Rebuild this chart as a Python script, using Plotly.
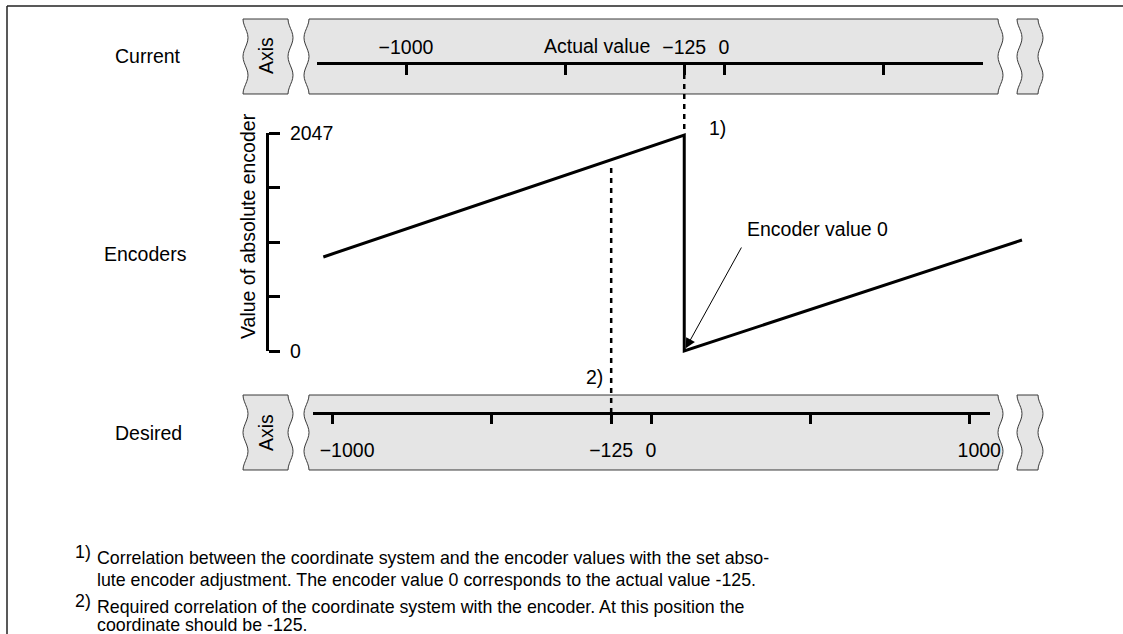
import math
import plotly.graph_objects as go

# ---------------- data ----------------
current_tick_vals = [-1000, -500, -125, 0, 500]
current_tick_text = ["\u22121000", "", "\u2212125", "0", ""]
desired_tick_vals = [-1000, -500, -125, 0, 500, 1000]
desired_tick_text = ["\u2003\u2002\u22121000", "", "\u2212125", "0", "", "\u20031000"]
encoder_tick_vals = [0, 511.75, 1023.5, 1535.25, 2047]
encoder_tick_text = ["0", "", "", "", "2047"]
encoder_x = [-1260, -125, -125, 937]      # actual value
encoder_y = [883, 2028, 0, 1042]          # value of absolute encoder
offset_value = -125

# ---------------- layout helpers ----------------
W, H = 1123, 634
FONT = "Liberation Sans, Arial, sans-serif"
FS = 19.5
FN = 17.8  # footnote size


def px(x):
    return x / W


def py(y):
    return 1 - y / H


# scales (pixels per unit) and zero positions
S_CUR, Z_CUR = 0.318, 724
S_DES, Z_DES = 0.3185, 651
ENC_TOP, ENC_BOT = 133, 351


def cur_val(p):
    return (p - Z_CUR) / S_CUR


def des_val(p):
    return (p - Z_DES) / S_DES


def enc_val(p):
    return (ENC_BOT - p) / (ENC_BOT - ENC_TOP) * 2047


fig = go.Figure()

# empty traces to create subplots
fig.add_trace(go.Scatter(x=[], y=[], xaxis="x", yaxis="y", showlegend=False))
fig.add_trace(go.Scatter(x=[], y=[], xaxis="x2", yaxis="y2", showlegend=False))
fig.add_trace(go.Scatter(x=[], y=[], xaxis="x3", yaxis="y3", showlegend=False))
# encoder line
fig.add_trace(go.Scatter(x=encoder_x, y=encoder_y, xaxis="x3", yaxis="y4",
                         mode="lines", line=dict(color="black", width=3),
                         showlegend=False, hoverinfo="skip"))

axis_common = dict(showgrid=False, zeroline=False, showline=True, linecolor="black",
                   linewidth=3, tickcolor="black", tickwidth=3, automargin=False,
                   tickfont=dict(family=FONT, size=FS, color="black"), fixedrange=True)
hidden = dict(visible=False, fixedrange=True, automargin=False, showgrid=False, zeroline=False)

fig.update_layout(
    template="none",
    width=W, height=H, margin=dict(l=0, r=0, t=0, b=0, pad=0, autoexpand=False),
    paper_bgcolor="white", plot_bgcolor="rgba(0,0,0,0)",
    showlegend=False, hovermode=False,
    xaxis=dict(domain=[px(317), px(983)], range=[cur_val(317), cur_val(983)],
               anchor="y", side="top", ticks="inside", ticklen=10,
               tickmode="array", tickvals=current_tick_vals, ticktext=current_tick_text,
               ticklabelstandoff=0, **axis_common),
    yaxis=dict(domain=[py(90), py(65)], range=[0, 1], **hidden),
    xaxis2=dict(domain=[px(313), px(990)], range=[des_val(313), des_val(990)],
                anchor="y2", side="bottom", ticks="outside", ticklen=9,
                tickmode="array", tickvals=desired_tick_vals, ticktext=desired_tick_text,
                ticklabelstandoff=10, **axis_common),
    yaxis2=dict(domain=[py(412), py(398)], range=[0, 1], **hidden),
    xaxis3=dict(domain=[0, 1], range=[cur_val(0), cur_val(W)], anchor="y4", **hidden),
    yaxis3=dict(domain=[py(ENC_BOT), py(ENC_TOP)], range=[0, 2047], anchor="free",
                position=px(267), side="right", ticks="outside", ticklen=11,
                tickmode="array", tickvals=encoder_tick_vals, ticktext=encoder_tick_text,
                ticklabelstandoff=6, **axis_common),
    yaxis4=dict(domain=[py(395), py(100)], range=[enc_val(395), enc_val(100)],
                anchor="x3", **hidden),
)

# ---------------- band shapes (torn-edge strips) ----------------
A = 5


def wave(t):
    return A * math.sin(2 * math.pi * t) ** 2


def band_path(xl, dl, xr, dr, yt, yb, n=24):
    pts = []
    for i in range(n + 1):  # right edge top->bottom
        t = i / n
        pts.append((xr + dr * wave(t), yt + (yb - yt) * t))
    for i in range(n + 1):  # left edge bottom->top
        t = 1 - i / n
        pts.append((xl + dl * wave(t), yt + (yb - yt) * t))
    return "M " + " L ".join(f"{px(x):.5f},{py(y):.5f}" for x, y in pts) + " Z"


shapes = []
for yt, yb in [(19, 94), (395, 470)]:
    for xl, dl, xr, dr in [(243, 1, 288, 1), (309, -1, 998, 1), (1017, 1, 1038, 1)]:
        shapes.append(dict(type="path", xref="paper", yref="paper",
                           path=band_path(xl, dl, xr, dr, yt, yb),
                           fillcolor="#e5e5e5", line=dict(color="#3a3a3a", width=1),
                           layer="below"))

# frame
shapes.append(dict(type="line", xref="paper", yref="paper", x0=px(7), x1=1, y0=py(6), y1=py(6),
                   line=dict(color="#222", width=1.5)))
shapes.append(dict(type="line", xref="paper", yref="paper", x0=px(7), x1=px(7), y0=py(6), y1=0,
                   line=dict(color="#222", width=1.5)))

# dashed correlation lines
shapes.append(dict(type="line", xref="x3", yref="paper", x0=offset_value, x1=offset_value,
                   y0=py(74), y1=py(132), line=dict(color="black", width=2.5, dash="5px,5px")))
shapes.append(dict(type="line", xref="x2", yref="paper", x0=offset_value, x1=offset_value,
                   y0=py(168), y1=py(420), line=dict(color="black", width=2.5, dash="5px,5px")))
fig.update_layout(shapes=shapes)

# ---------------- text ----------------


def txt(text, x, y, xanchor="center", size=FS, angle=0, yanchor="middle"):
    return dict(text=text, x=px(x), y=py(y), xref="paper", yref="paper", showarrow=False,
                xanchor=xanchor, yanchor=yanchor, textangle=angle,
                font=dict(family=FONT, size=size, color="black"))


ann = [
    txt("Current", 148, 56),
    txt("Encoders", 145, 254),
    txt("Desired", 148, 433),
    txt("Axis", 266, 56, angle=-90),
    txt("Axis", 266, 433, angle=-90),
    txt("Actual value", 652, 46, xanchor="right"),
    txt("1)", 707, 128, xanchor="left"),
    txt("2)", 605, 377, xanchor="right"),
    txt("Encoder value 0", 745, 229, xanchor="left"),
    txt("Value of absolute encoder", 248, 226, angle=-90),
    txt("1)", 73, 552, xanchor="left", size=FN),
    txt("Correlation between the coordinate system and the encoder values with the set abso-",
        95, 558, xanchor="left", size=FN),
    txt("lute encoder adjustment. The encoder value 0 corresponds to the actual value -125.",
        95, 580, xanchor="left", size=FN),
    txt("2)", 73, 601, xanchor="left", size=FN),
    txt("Required correlation of the coordinate system with the encoder. At this position the",
        95, 607, xanchor="left", size=FN),
    txt("coordinate should be -125.", 95, 625, xanchor="left", size=FN),
]
# arrow pointing to encoder value 0
ann.append(dict(text="", x=offset_value, y=0, xref="x3", yref="y4", showarrow=True,
                ax=58, ay=-105, arrowhead=2, arrowsize=2, arrowwidth=1,
                arrowcolor="black", standoff=3))
fig.update_layout(annotations=ann)

fig.write_html("out.html", config={"displayModeBar": False},
               post_script="document.body.style.margin='0';")
